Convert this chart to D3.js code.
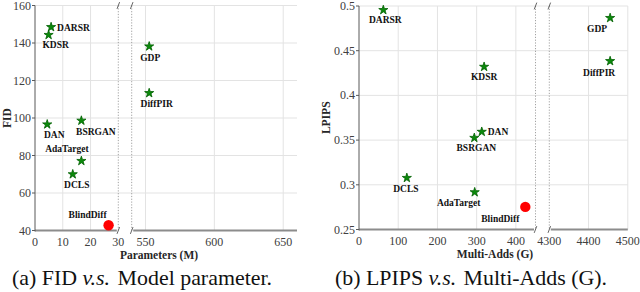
<!DOCTYPE html>
<html>
<head>
<meta charset="utf-8">
<script src="https://cdn.jsdelivr.net/npm/d3@7"></script>
<style>
  body { margin: 0; background: #fff; }
  svg text { font-family: "Liberation Serif", "DejaVu Serif", "Times New Roman", Times, serif; }
</style>
</head>
<body>
<div id="chart"></div>
<script>
// model names (same order in both panels)
const models = ["DARSR", "KDSR", "GDP", "DiffPIR", "DAN", "BSRGAN", "AdaTarget", "DCLS", "BlindDiff"];

// (a) FID vs parameters (M)
const paramsM = [5.8, 4.9, 552.7, 552.7, 4.4, 16.7, 16.7, 13.6, 26.5];
const fidValues = [148.5, 144.3, 138.2, 113.3, 96.6, 98.6, 77.1, 70.0, 42.8];
const fidYTicks = [40, 60, 80, 100, 120, 140, 160];
const fidXTicks = [0, 10, 20, 30, 550, 600, 650];

// (b) LPIPS vs Multi-Adds (G)
const multiAdds = [62, 319, 4455, 4455, 313, 294, 295, 122, 424];
const lpipsValues = [0.4955, 0.432, 0.4866, 0.4384, 0.3593, 0.3525, 0.2917, 0.3077, 0.2753];
const lpipsYTicks = [0.25, 0.3, 0.35, 0.4, 0.45, 0.5];
const lpipsXTicks = [0, 100, 200, 300, 400, 4300, 4400, 4500];

const ours = "BlindDiff";

// label placement relative to marker: [dx, dy, anchor]
const fidLabelPos = {
    DARSR: [6, 1, "start"], KDSR: [7, 10, "middle"], GDP: [1, 11, "middle"],
    DiffPIR: [7.5, 11, "middle"], DAN: [7, 10, "middle"], BSRGAN: [14.5, 11, "middle"],
    AdaTarget: [-14.5, -12, "middle"], DCLS: [4, 10.5, "middle"], BlindDiff: [-21, -10, "middle"]
};
const lpipsLabelPos = {
    DARSR: [2, 9.5, "middle"], KDSR: [0, 10, "middle"], GDP: [-13, 11, "middle"],
    DiffPIR: [-11, 12, "middle"], DAN: [6, 0, "start"], BSRGAN: [2, 10, "middle"],
    AdaTarget: [-16, 11, "middle"], DCLS: [-1, 11, "middle"], BlindDiff: [-25, 12, "middle"]
};

const FONT = "'Liberation Serif', 'DejaVu Serif', serif";

const svg = d3.select("#chart").append("svg")
    .attr("width", 640)
    .attr("height", 292)
    .attr("font-family", FONT);

svg.append("rect").attr("width", 640).attr("height", 292).attr("fill", "#fff");

function drawPanel(cfg) {
    const g = svg.append("g");
    const top = cfg.top, bottom = cfg.bottom;
    const xl = d3.scaleLinear().domain(cfg.leftDomain).range(cfg.leftRange);
    const xr = d3.scaleLinear().domain(cfg.rightDomain).range(cfg.rightRange);
    const x = v => v <= cfg.leftDomain[1] ? xl(v) : xr(v);
    const y = d3.scaleLinear().domain(cfg.yDomain).range([bottom, top]);
    const x0 = cfg.leftRange[0], x1 = cfg.rightRange[1];

    // horizontal grid
    g.selectAll(".hgrid")
        .data(cfg.yTicks.filter(t => t !== cfg.yDomain[0]))
        .enter().append("line")
        .attr("x1", x0).attr("x2", x1)
        .attr("y1", d => y(d)).attr("y2", d => y(d))
        .attr("stroke", "#e3e3e3").attr("stroke-width", 1);

    // vertical grid
    g.selectAll(".vgrid")
        .data(cfg.xGrid)
        .enter().append("line")
        .attr("x1", d => x(d)).attr("x2", d => x(d))
        .attr("y1", top).attr("y2", bottom)
        .attr("stroke", "#e3e3e3").attr("stroke-width", 1);

    // break lines (dotted) with slash marks
    [cfg.leftRange[1], cfg.rightRange[0]].forEach(bx => {
        g.append("line")
            .attr("x1", bx).attr("x2", bx)
            .attr("y1", top).attr("y2", bottom)
            .attr("stroke", "#8a8a8a").attr("stroke-width", 0.8)
            .attr("stroke-dasharray", "1.2,1.6");
        [top, bottom].forEach(by => {
            g.append("line")
                .attr("x1", bx - 1.3).attr("y1", by + 3.4)
                .attr("x2", bx + 1.3).attr("y2", by - 3.4)
                .attr("stroke", "#555").attr("stroke-width", 0.9);
        });
    });

    // bottom axis (broken)
    g.append("line")
        .attr("x1", x0).attr("x2", cfg.leftRange[1] - 1.5)
        .attr("y1", bottom).attr("y2", bottom)
        .attr("stroke", "#8c8c8c").attr("stroke-width", 2);
    g.append("line")
        .attr("x1", cfg.rightRange[0] + 1.5).attr("x2", x1)
        .attr("y1", bottom).attr("y2", bottom)
        .attr("stroke", "#8c8c8c").attr("stroke-width", 2);

    // left axis
    g.append("line")
        .attr("x1", x0).attr("x2", x0)
        .attr("y1", top).attr("y2", bottom + 1)
        .attr("stroke", "#595959").attr("stroke-width", 1);
    g.selectAll(".ytick")
        .data(cfg.yTicks)
        .enter().append("line")
        .attr("x1", x0 - 3).attr("x2", x0)
        .attr("y1", d => y(d)).attr("y2", d => y(d))
        .attr("stroke", "#595959").attr("stroke-width", 1);

    g.selectAll(".ylab")
        .data(cfg.yTicks)
        .enter().append("text")
        .attr("x", x0 - 4)
        .attr("y", d => y(d) + 4)
        .attr("text-anchor", "end")
        .attr("font-family", FONT)
        .attr("font-size", "12px")
        .attr("fill", "#404040")
        .text(cfg.yFormat);

    g.selectAll(".xlab")
        .data(cfg.xTicks)
        .enter().append("text")
        .attr("x", d => x(d))
        .attr("y", bottom + 15)
        .attr("text-anchor", "middle")
        .attr("font-family", FONT)
        .attr("font-size", "12px")
        .attr("fill", "#404040")
        .text(d => d);

    // axis titles
    g.append("text")
        .attr("transform", `translate(${cfg.yTitleX},${(top + bottom) / 2}) rotate(-90)`)
        .attr("text-anchor", "middle")
        .attr("dy", "0.35em")
        .attr("font-family", FONT)
        .attr("font-size", "11.5px")
        .attr("font-weight", "bold")
        .attr("fill", "#262626")
        .text(cfg.yTitle);
    g.append("text")
        .attr("x", cfg.xTitleX)
        .attr("y", bottom + 28)
        .attr("text-anchor", "middle")
        .attr("font-family", FONT)
        .attr("font-size", "11.5px")
        .attr("font-weight", "bold")
        .attr("fill", "#262626")
        .text(cfg.xTitle);

    // points
    const pts = cfg.names.map((n, i) => ({ name: n, xv: cfg.xs[i], yv: cfg.ys[i] }));
    const star = d3.symbol().type(d3.symbolStar).size(26);

    g.selectAll(".star")
        .data(pts.filter(d => d.name !== ours))
        .enter().append("path")
        .attr("d", star)
        .attr("transform", d => `translate(${x(d.xv)},${y(d.yv)})`)
        .attr("fill", "#0b8a0b")
        .attr("stroke", "#006000")
        .attr("stroke-width", 0.8);

    g.selectAll(".ours")
        .data(pts.filter(d => d.name === ours))
        .enter().append("circle")
        .attr("cx", d => x(d.xv))
        .attr("cy", d => y(d.yv))
        .attr("r", 5.2)
        .attr("fill", "#ff0000");

    g.selectAll(".plabel")
        .data(pts)
        .enter().append("text")
        .attr("x", d => x(d.xv) + cfg.labelPos[d.name][0])
        .attr("y", d => y(d.yv) + cfg.labelPos[d.name][1] + 3.2)
        .attr("text-anchor", d => cfg.labelPos[d.name][2])
        .attr("font-family", FONT)
        .attr("font-size", "9.5px")
        .attr("font-weight", "bold")
        .attr("fill", "#111")
        .text(d => d.name);

    // caption, stretched to the width it has in the figure
    const cap = g.append("text")
        .attr("x", cfg.captionX)
        .attr("y", 285)
        .attr("text-anchor", "middle")
        .attr("font-family", FONT)
        .attr("font-size", "22px")
        .attr("fill", "#111")
        .attr("textLength", cfg.captionWidth)
        .attr("lengthAdjust", "spacingAndGlyphs");
    cap.append("tspan").text(cfg.caption[0]);
    cap.append("tspan").attr("font-style", "italic").text("v.s.");
    cap.append("tspan").attr("dx", 2).text(cfg.caption[1]);
}

drawPanel({
    top: 5.5, bottom: 230.5,
    leftDomain: [0, 30], leftRange: [35, 118.3],
    rightDomain: [540, 660], rightRange: [131.7, 297],
    yDomain: [40, 160], yTicks: fidYTicks, yFormat: d => d,
    xTicks: fidXTicks, xGrid: [10, 20, 550, 600, 650],
    names: models, xs: paramsM, ys: fidValues, labelPos: fidLabelPos,
    yTitle: "FID", yTitleX: 7, xTitle: "Parameters (M)", xTitleX: 159,
    caption: ["(a) FID ", " Model parameter."], captionX: 142, captionWidth: 260
});

drawPanel({
    top: 6, bottom: 229.5,
    leftDomain: [0, 450], leftRange: [359, 535.5],
    rightDomain: [4300, 4500], rightRange: [549.3, 627.8],
    yDomain: [0.25, 0.5], yTicks: lpipsYTicks, yFormat: d => d3.format("")(d),
    xTicks: lpipsXTicks, xGrid: [100, 200, 300, 400, 4400, 4500],
    names: models, xs: multiAdds, ys: lpipsValues, labelPos: lpipsLabelPos,
    yTitle: "LPIPS", yTitleX: 326, xTitle: "Multi-Adds (G)", xTitleX: 495,
    caption: ["(b) LPIPS ", " Multi-Adds (G)."], captionX: 471, captionWidth: 272
});
</script>
</body>
</html>
